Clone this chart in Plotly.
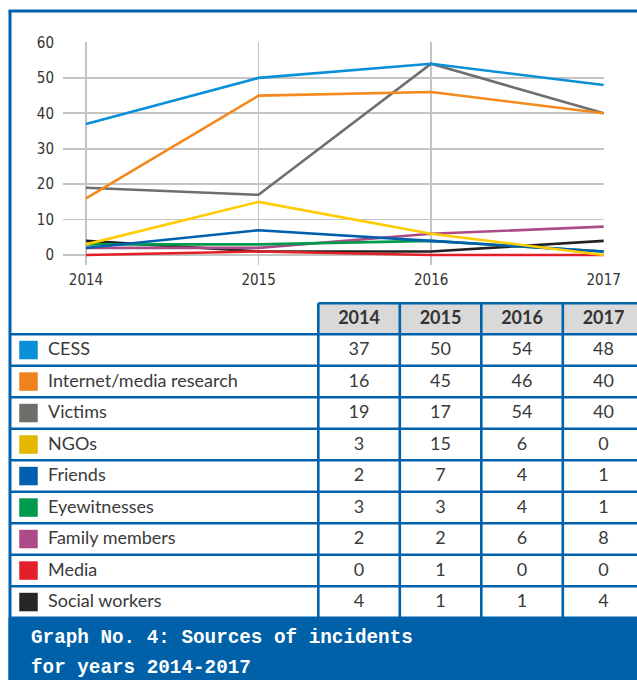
import plotly.graph_objects as go

# ---------------- data ----------------
years = [2014, 2015, 2016, 2017]
year_labels = ["2014", "2015", "2016", "2017"]
series_names = ["CESS", "Internet/media research", "Victims", "NGOs", "Friends",
                "Eyewitnesses", "Family members", "Media", "Social workers"]
cess = [37, 50, 54, 48]
internet = [16, 45, 46, 40]
victims = [19, 17, 54, 40]
ngos = [3, 15, 6, 0]
friends = [2, 7, 4, 1]
eyewitnesses = [3, 3, 4, 1]
family = [2, 2, 6, 8]
media = [0, 1, 0, 0]
social = [4, 1, 1, 4]
y_ticks = [0, 10, 20, 30, 40, 50, 60]
caption_lines = ["Graph No. 4: Sources of incidents", "for years 2014-2017"]

series_values = [cess, internet, victims, ngos, friends, eyewitnesses, family, media, social]
line_colors = ["#0a90d8", "#f28a1e", "#6e6e6e", "#ffcc00", "#0060ad",
               "#009a4c", "#ad4a88", "#e3202a", "#222222"]
square_colors = ["#0a90d8", "#f0821e", "#6e6e6a", "#e2b800", "#0060ad",
                 "#009a4c", "#ad4a88", "#e3202a", "#262626"]

# ---------------- layout constants (pixels) ----------------
W, H = 637, 680
BLUE = "#0062ab"
GRID = "#c4c4c4"
TXT = "#333333"
TBL_FONT = "Lato"

def px(x):
    return x / W

def py(y):
    return 1 - y / H

# chart area
cx0, cx1 = 63, 604
cy_top, cy_bot = 42.3, 265
x_per_year = (603.7 - 86) / 3
x_lo = 2014 - (86 - cx0) / x_per_year
x_hi = 2017 + (cx1 - 603.7) / x_per_year
y_per_unit = (255 - 42.3) / 60
y_lo = -(cy_bot - 255) / y_per_unit
y_hi = 60 + 0.05

# table geometry
frame_x = 10
frame_y = 11
hdr_top = 303.3
row0_top = 334.3
row_h = 31.5
col_left = 318.3
col_w = 81.5
n_rows = len(series_names)
tbl_bot = row0_top + n_rows * row_h

fig = go.Figure()

# ---------------- line chart ----------------
for name, vals, col in reversed(list(zip(series_names, series_values, line_colors))):
    fig.add_trace(go.Scatter(
        x=years, y=vals, mode="lines", name=name,
        line=dict(color=col, width=2.6),
        xaxis="x", yaxis="y", showlegend=False, hoverinfo="skip",
    ))

# ---------------- table content on a pixel-unit axis ----------------
row_centers = [row0_top + (i + 0.5) * row_h for i in range(n_rows)]
col_centers = [col_left + (j + 0.5) * col_w for j in range(len(years))]

# legend squares
fig.add_trace(go.Scatter(
    x=[28.5] * n_rows, y=row_centers, mode="markers",
    marker=dict(symbol="square", size=18.5, color=square_colors, line=dict(width=0)),
    xaxis="x2", yaxis="y2", showlegend=False, hoverinfo="skip",
))
# row labels
fig.add_trace(go.Scatter(
    x=[48] * n_rows, y=[r + 0.5 for r in row_centers], mode="text",
    text=series_names, textposition="middle right",
    textfont=dict(family=TBL_FONT, size=18, color="#3a3a3a"),
    xaxis="x2", yaxis="y2", showlegend=False, hoverinfo="skip",
))
# values
vx, vy, vt = [], [], []
for i, vals in enumerate(series_values):
    for j, v in enumerate(vals):
        vx.append(col_centers[j])
        vy.append(row_centers[i] + 0.5)
        vt.append(str(v))
fig.add_trace(go.Scatter(
    x=vx, y=vy, mode="text", text=vt, textposition="middle center",
    textfont=dict(family=TBL_FONT, size=18, color="#3a3a3a"),
    xaxis="x2", yaxis="y2", showlegend=False, hoverinfo="skip",
))
# header
fig.add_trace(go.Scatter(
    x=col_centers, y=[(hdr_top + row0_top) / 2 + 0.5] * len(years), mode="text",
    text=["<b>%s</b>" % t for t in year_labels], textposition="middle center",
    textfont=dict(family=TBL_FONT, size=18, color=TXT),
    xaxis="x2", yaxis="y2", showlegend=False, hoverinfo="skip",
))

shapes = []
def line(x0, y0, x1, y1, w=2.6, c=BLUE, layer="above"):
    shapes.append(dict(type="line", xref="x2", yref="y2", x0=x0, y0=y0, x1=x1, y1=y1,
                       line=dict(color=c, width=w), layer=layer))

# header fill
shapes.append(dict(type="rect", xref="x2", yref="y2", x0=col_left, x1=W + 10,
                   y0=hdr_top, y1=row0_top, fillcolor="#d9d9d9", line=dict(width=0),
                   layer="below"))
# caption band
shapes.append(dict(type="rect", xref="x2", yref="y2", x0=8.5, x1=W + 10,
                   y0=tbl_bot, y1=H + 10, fillcolor="#0060a8", line=dict(width=0),
                   layer="below"))
# header top
line(col_left, hdr_top, W + 10, hdr_top)
# row lines
for k in range(n_rows + 1):
    yk = row0_top + k * row_h
    line(frame_x, yk, W + 10, yk)
# column lines
for j in range(len(years)):
    xj = col_left + j * col_w
    line(xj, hdr_top, xj, tbl_bot)
# outer frame
line(frame_x, frame_y, frame_x, H + 10, w=3)
line(frame_x - 1.5, frame_y, W + 10, frame_y, w=3)

fig.update_layout(shapes=shapes)

# caption
for k, t in enumerate(caption_lines):
    fig.add_annotation(
        x=px(29), y=py(637.5 + k * 30.5), xref="paper", yref="paper",
        text="<b>%s</b>" % t, showarrow=False, xanchor="left", yanchor="middle",
        font=dict(family="Liberation Mono", size=19.3, color="white"),
    )

fig.update_layout(
    template="none",
    width=W, height=H, autosize=False,
    margin=dict(l=0, r=0, t=0, b=0, pad=0, autoexpand=False),
    paper_bgcolor="white", plot_bgcolor="rgba(0,0,0,0)",
    showlegend=False,
    xaxis=dict(
        domain=[px(cx0), px(cx1)], range=[x_lo, x_hi], automargin=False,
        tickvals=years, ticktext=year_labels,
        showgrid=True, gridcolor=GRID, gridwidth=1.8,
        zeroline=False, showline=False, ticks="",
        tickfont=dict(family="DejaVu Sans Condensed", size=15, color=TXT),
        ticklabelstandoff=4, anchor="y",
    ),
    yaxis=dict(
        domain=[py(cy_bot), py(cy_top)], range=[y_lo, y_hi], automargin=False,
        tickvals=y_ticks,
        showgrid=True, gridcolor=GRID, gridwidth=1.8,
        zeroline=True, zerolinecolor=GRID, zerolinewidth=1.8,
        showline=False, ticks="",
        tickfont=dict(family="DejaVu Sans Condensed", size=15, color=TXT),
        ticklabelstandoff=8, anchor="x",
    ),
    xaxis2=dict(domain=[0, 1], range=[0, W], visible=False, anchor="y2",
                fixedrange=True, automargin=False),
    yaxis2=dict(domain=[0, 1], range=[H, 0], visible=False, anchor="x2",
                fixedrange=True, automargin=False),
)

fig.write_html(
    "out.html",
    config={"displayModeBar": False, "responsive": False, "staticPlot": True},
    default_width="637px", default_height="680px",
    post_script="document.body.style.margin='0';document.body.style.padding='0';"
                "document.body.style.overflow='hidden';",
)
